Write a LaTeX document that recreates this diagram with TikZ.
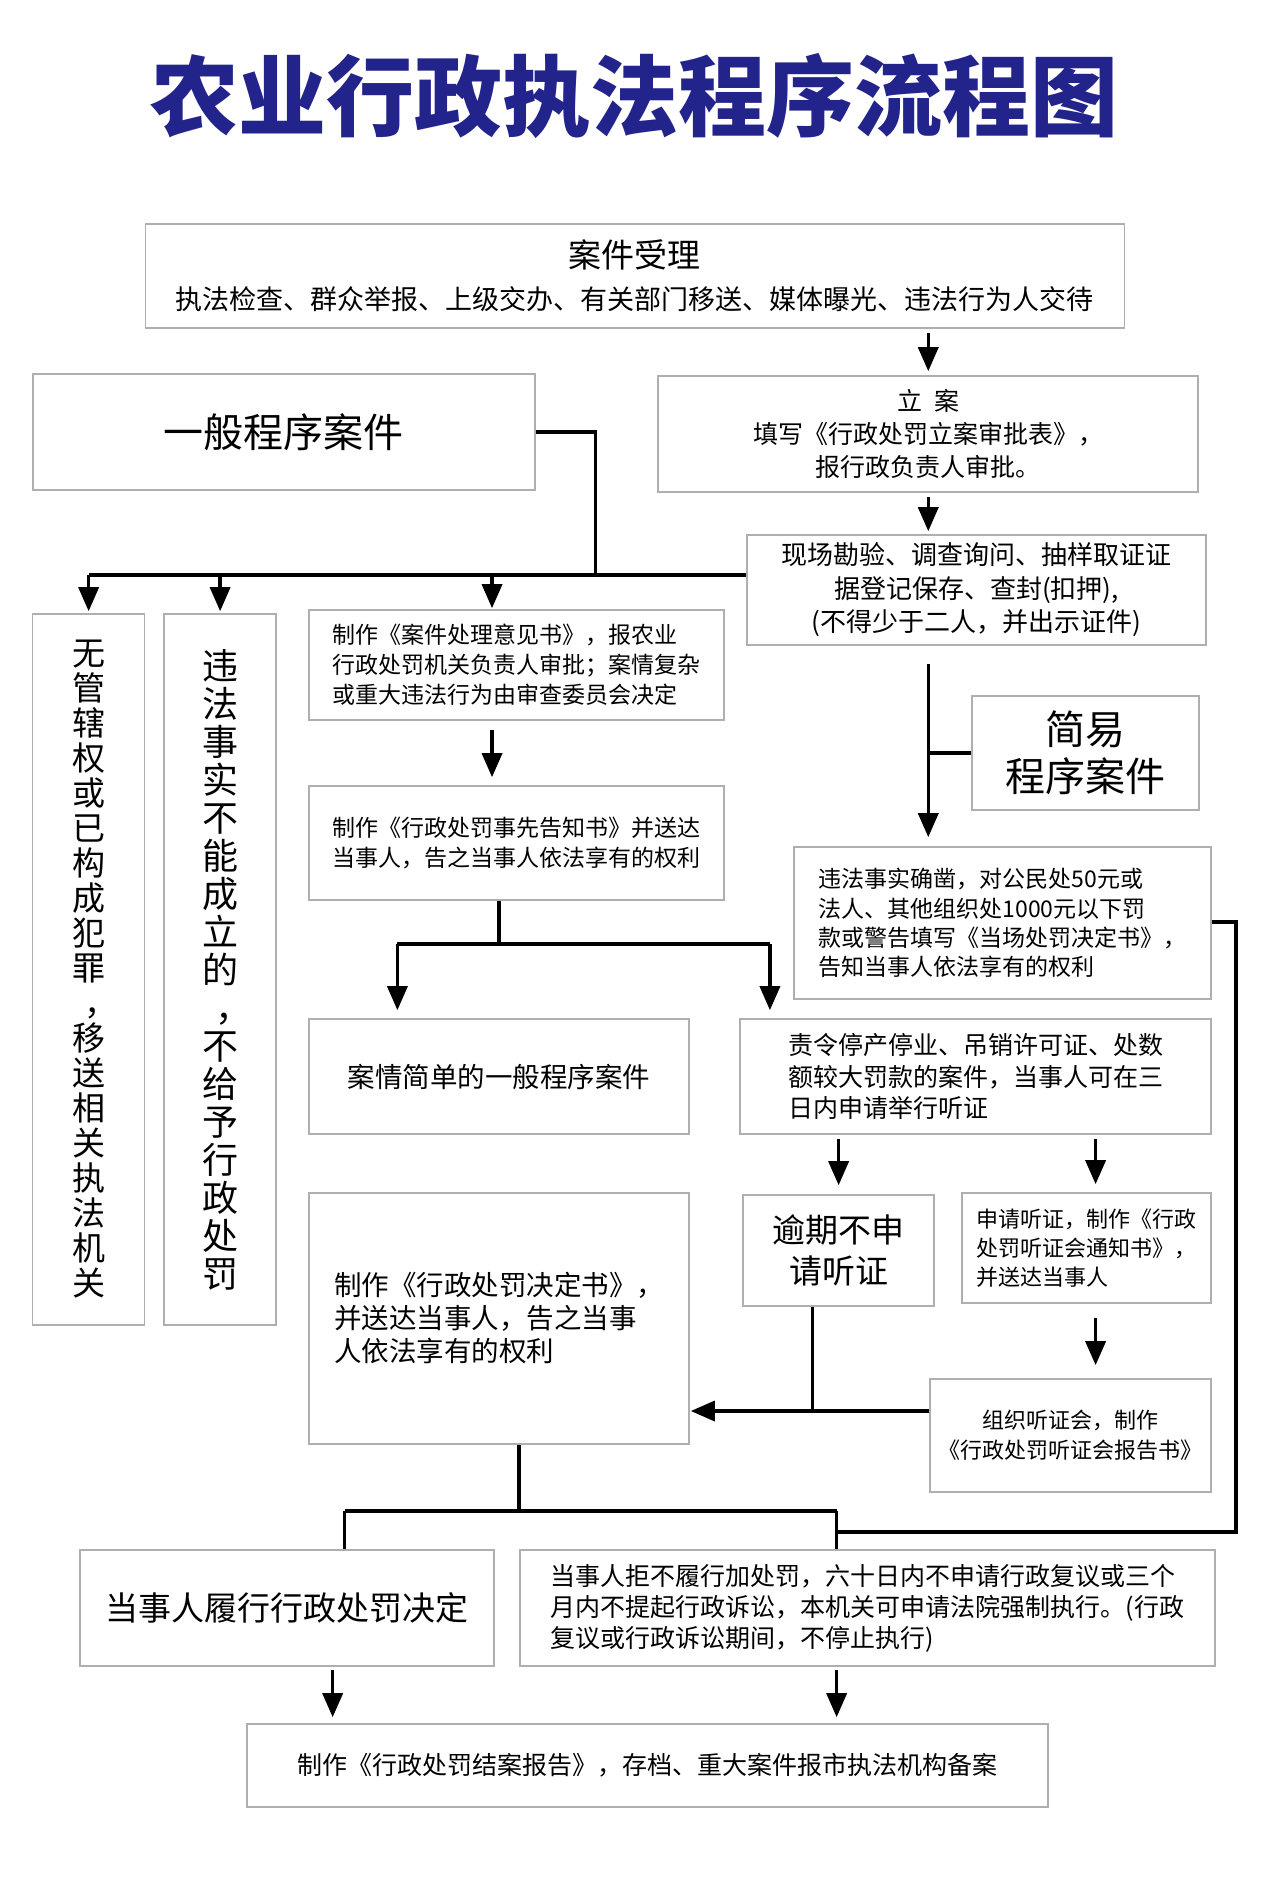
\documentclass[tikz,border=0pt]{standalone}
\usepackage{fontspec}
\newfontfamily\cjk{Noto Sans CJK SC}
\usetikzlibrary{arrows.meta}
\definecolor{titleblue}{RGB}{35,35,140}
\definecolor{boxgray}{RGB}{175,175,175}
\tikzset{
  box/.style={draw=boxgray, line width=1.6pt, inner sep=0pt, font=\cjk, text=black},
  conn/.style={line width=3.5pt, draw=black},
  arr/.style={conn, -{Triangle[length=24pt,width=20pt]}},
}
\newcommand{\vcomma}{\makebox[1em][l]{\hspace{0.38em}，}}
\begin{document}
\begin{tikzpicture}[x=0.996pt,y=-1pt]
\useasboundingbox (0,0) rectangle (1274.1,1885);
\fill[white] (0,0) rectangle (1274.1,1885);

\node[font=\cjk\bfseries\fontsize{88}{88}\selectfont, text=titleblue] (title) at (637,96) {农业行政执法程序流程图};

% boxes
\node[box, minimum width=979pt, minimum height=104pt, align=center, font=\cjk\fontsize{27}{42}\selectfont] (b1) at (637.5,276)
  {{\fontsize{33}{42}\selectfont 案件受理}\\执法检查、群众举报、上级交办、有关部门移送、媒体曝光、违法行为人交待};
\node[box, minimum width=502pt, minimum height=116pt, font=\cjk\fontsize{40}{40}\selectfont] (b2) at (285,432) {一般程序案件};
\node[box, minimum width=540pt, minimum height=116pt, align=center, font=\cjk\fontsize{25}{33}\selectfont] (b3) at (932,434)
  {立\hspace{12pt}案\\填写《行政处罚立案审批表》，\\报行政负责人审批。};
\node[box, minimum width=459pt, minimum height=110pt, align=center, font=\cjk\fontsize{26}{33.5}\selectfont] (b4) at (980.5,590)
  {现场勘验、调查询问、抽样取证证\\据登记保存、查封(扣押),\\(不得少于二人，并出示证件)};
\node[box, minimum width=112pt, minimum height=711pt, align=center, font=\cjk\fontsize{33}{35}\selectfont] (b5) at (89,969.5)
  {无\\管\\辖\\权\\或\\已\\构\\成\\犯\\罪\\\vcomma\\移\\送\\相\\关\\执\\法\\机\\关};
\node[box, minimum width=112pt, minimum height=711pt, align=center, font=\cjk\fontsize{36}{38}\selectfont] (b6) at (221,969.5)
  {违\\法\\事\\实\\不\\能\\成\\立\\的\\\vcomma\\不\\给\\予\\行\\政\\处\\罚};
\node[box, minimum width=415pt, minimum height=110pt, align=left, font=\cjk\fontsize{23}{30}\selectfont] (b7) at (518.5,665)
  {制作《案件处理意见书》，报农业\\行政处罚机关负责人审批；案情复杂\\或重大违法行为由审查委员会决定};
\node[box, minimum width=415pt, minimum height=114pt, align=left, font=\cjk\fontsize{23}{30}\selectfont] (b8) at (518.5,843)
  {制作《行政处罚事先告知书》并送达\\当事人，告之当事人依法享有的权利};
\node[box, minimum width=380pt, minimum height=115pt, font=\cjk\fontsize{27.5}{27.5}\selectfont] (b9) at (501,1076.5) {案情简单的一般程序案件};
\node[box, minimum width=471pt, minimum height=115pt, align=left, font=\cjk\fontsize{25}{31.5}\selectfont] (b10) at (979.5,1076.5)
  {责令停产停业、吊销许可证、处数\\额较大罚款的案件，当事人可在三\\日内申请举行听证};
\node[box, minimum width=227pt, minimum height=114pt, align=center, font=\cjk\fontsize{40}{47}\selectfont] (b11) at (1090,753)
  {简易\\程序案件};
\node[box, minimum width=417pt, minimum height=152pt, align=left, font=\cjk\fontsize{23}{29.3}\selectfont] (b12) at (1006.5,923)
  {违法事实确凿，对公民处50元或\\法人、其他组织处1000元以下罚\\款或警告填写《当场处罚决定书》，\\告知当事人依法享有的权利};
\node[box, minimum width=191pt, minimum height=111pt, align=center, font=\cjk\fontsize{33}{41}\selectfont] (b13) at (842,1250.5)
  {逾期不申\\请听证};
\node[box, minimum width=249pt, minimum height=110pt, align=left, font=\cjk\fontsize{22}{29}\selectfont] (b14) at (1091,1248)
  {申请听证，制作《行政\\处罚听证会通知书》，\\并送达当事人};
\node[box, minimum width=380pt, minimum height=251pt, align=left, font=\cjk\fontsize{27.5}{33}\selectfont] (b15) at (501,1318.5)
  {制作《行政处罚决定书》，\\并送达当事人，告之当事\\人依法享有的权利};
\node[box, minimum width=281pt, minimum height=113pt, align=center, font=\cjk\fontsize{22}{30}\selectfont] (b16) at (1075,1435.5)
  {组织听证会，制作\\《行政处罚听证会报告书》};
\node[box, minimum width=414pt, minimum height=116pt, font=\cjk\fontsize{33}{33}\selectfont] (b17) at (288,1608) {当事人履行行政处罚决定};
\node[box, minimum width=695pt, minimum height=116pt, align=left, font=\cjk\fontsize{25}{31}\selectfont] (b18) at (871,1608)
  {当事人拒不履行加处罚，六十日内不申请行政复议或三个\\月内不提起行政诉讼，本机关可申请法院强制执行。(行政\\复议或行政诉讼期间，不停止执行)};
\node[box, minimum width=801pt, minimum height=83pt, font=\cjk\fontsize{25}{25}\selectfont] (b19) at (650,1765.5)
  {制作《行政处罚结案报告》，存档、重大案件报市执法机构备案};

% coordinates
\coordinate (j1) at (598,575);
\coordinate (barL) at (89,575);
\coordinate (a7) at (494,575);
\coordinate (j2) at (501,944);
\coordinate (j2L) at (399,944);
\coordinate (j2R) at (773,944);
\coordinate (j3) at (932,753);
\coordinate (r1) at (1241,922);
\coordinate (r2) at (1241,1532);
\coordinate (j5) at (840,1532);
\coordinate (c14) at (1100,1248);
\coordinate (j4) at (816,1411);
\coordinate (j6) at (521,1511);
\coordinate (j6L) at (346,1511);
\coordinate (j6R) at (840,1511);
\coordinate (c17) at (334,1690);

% connectors
\draw[arr, shorten <=4pt, shorten >=4pt] (b1.south -| b3.north) -- (b3.north);
\draw[arr, shorten <=4pt, shorten >=3pt] (b3.south) -- (b3.south |- b4.north);
\draw[conn] (b2.east) -| (j1);
\draw[conn] (b4.west |- j1) -- (barL);
\draw[arr, shorten >=2pt] (barL) -- (b5.north);
\draw[arr, shorten >=2pt] (b6.north |- j1) -- (b6.north);
\draw[arr, shorten >=1pt] (a7) -- (a7 |- b7.north);
\draw[arr, shorten <=9pt, shorten >=8pt] (a7 |- b7.south) -- (a7 |- b8.north);
\draw[conn] (j2 |- b8.south) -- (j2);
\draw[conn] (j2L) -- (j2R);
\draw[arr, shorten >=8pt] (j2L) -- (j2L |- b9.north);
\draw[arr, shorten >=8pt] (j2R) -- (j2R |- b10.north);
\draw[arr, shorten <=18pt, shorten >=9pt] (j3 |- b4.south) -- (j3 |- b12.north);
\draw[conn] (j3) -- (b11.west);
\draw[conn] (r1 -| b12.east) -- (r1) -- (r2) -- (j5);
\draw[arr, shorten <=4pt, shorten >=9pt] (b13.north |- b10.south) -- (b13.north);
\draw[arr, shorten <=4pt, shorten >=8pt] (c14 |- b10.south) -- (c14 |- b14.north);
\draw[arr, shorten <=14pt, shorten >=13pt] (c14 |- b14.south) -- (c14 |- b16.north);
\draw[conn] (j4 |- b13.south) -- (j4);
\draw[arr, shorten >=1pt] (b16.west |- j4) -- (b15.east |- j4);
\draw[conn] (j6 |- b15.south) -- (j6);
\draw[conn] (j6L) -- (j6R);
\draw[conn] (j6L) -- (j6L |- b17.north);
\draw[conn] (j6R) -- (j6R |- b18.north);
\draw[arr, shorten <=3pt, shorten >=6pt] (c17 |- b17.south) -- (c17 |- b19.north);
\draw[arr, shorten <=3pt, shorten >=6pt] (j6R |- b18.south) -- (j6R |- b19.north);
\end{tikzpicture}
\end{document}
